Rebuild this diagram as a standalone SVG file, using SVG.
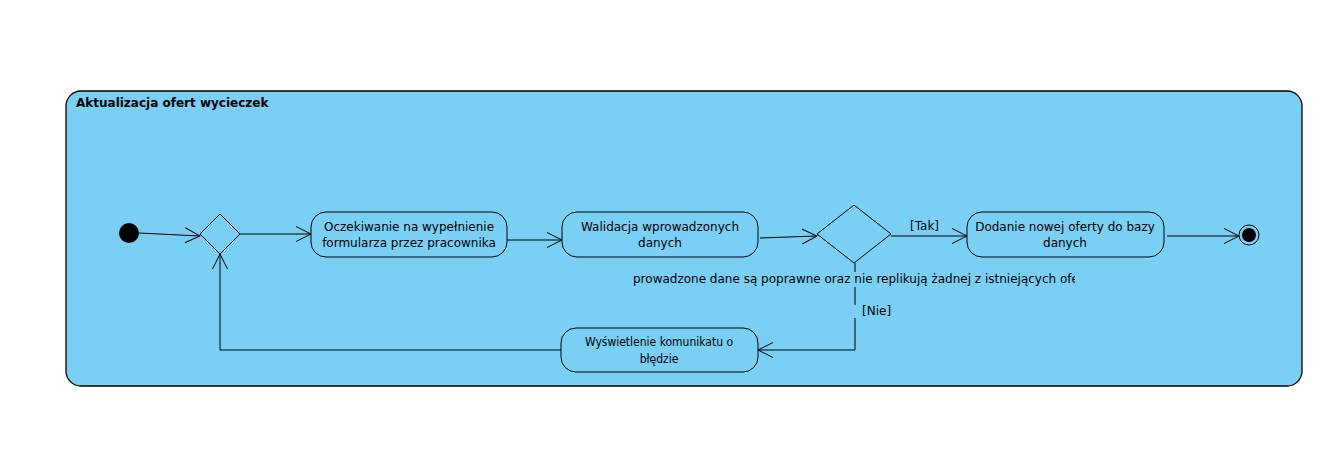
<svg xmlns="http://www.w3.org/2000/svg" width="1344" height="455" viewBox="0 0 1344 455">
<style>
.frame{fill:#7acff4;stroke:#000;stroke-width:1.3}
.act{fill:#7acff4;stroke:#000;stroke-width:1}
.dec{fill:#7acff4;stroke:#000;stroke-width:1}
.t{font-family:"DejaVu Sans","Liberation Sans",sans-serif;font-size:12px;fill:#000;text-anchor:middle}
.tc{font-family:"DejaVu Sans Condensed","DejaVu Sans","Liberation Sans",sans-serif;font-size:12px;fill:#000;text-anchor:middle}
.lbl{font-family:"DejaVu Sans","Liberation Sans",sans-serif;font-size:12px;fill:#000}
.title{font-family:"DejaVu Sans","Liberation Sans",sans-serif;font-size:12px;font-weight:bold;fill:#000}
.e{fill:none;stroke:#000;stroke-width:1}
</style>
<defs>
<marker id="arr" markerWidth="16" markerHeight="16" refX="15" refY="8" orient="auto" markerUnits="userSpaceOnUse">
<path d="M0,0.5 L15,8 L0,15.5" fill="none" stroke="#000" stroke-width="1"/>
</marker>
<clipPath id="gclip"><rect x="633" y="265" width="442" height="25"/></clipPath>
</defs>
<rect width="1344" height="455" fill="#fff"/>
<g id="frame">
<rect class="frame" x="66" y="91" width="1236" height="295" rx="15" ry="15"/>
<text class="title" x="76" y="107">Aktualizacja ofert wycieczek</text>
</g>
<g id="edges">
<path class="e" d="M139,233 L200,236" marker-end="url(#arr)"/>
<path class="e" d="M240,234 L311,234" marker-end="url(#arr)"/>
<path class="e" d="M507,240 L562,240" marker-end="url(#arr)"/>
<path class="e" d="M760,238 L817,236" marker-end="url(#arr)"/>
<path class="e" d="M891,236 L967,236" marker-end="url(#arr)"/>
<text class="lbl" x="910" y="230">[Tak]</text>
<path class="e" d="M1167,236 L1239,236" marker-end="url(#arr)"/>
<path class="e" d="M855,263 L855,272"/>
<path class="e" d="M855,287 L855,305"/>
<path class="e" d="M855,318 L855,350 L758,350" marker-end="url(#arr)"/>
<text class="lbl" x="862" y="315">[Nie]</text>
<text class="lbl" x="633" y="283" clip-path="url(#gclip)">prowadzone dane są poprawne oraz nie replikują żadnej z istniejących ofe</text>
<path class="e" d="M561,350 L220,350 L220,254" marker-end="url(#arr)"/>
</g>
<g id="start"><circle cx="129" cy="233" r="10" fill="#000"/></g>
<g id="merge"><polygon class="dec" points="220,214 240,234 220,254 200,234"/></g>
<g id="a1">
<rect class="act" x="311" y="212" width="196" height="45" rx="15" ry="15"/>
<text class="t" x="409" y="231">Oczekiwanie na wypełnienie</text>
<text class="t" x="409" y="247">formularza przez pracownika</text>
</g>
<g id="a2">
<rect class="act" x="562" y="212" width="196" height="45" rx="15" ry="15"/>
<text class="t" x="660" y="231">Walidacja wprowadzonych</text>
<text class="t" x="660" y="247">danych</text>
</g>
<g id="d2"><polygon class="dec" points="854,205 891,234 854,263 817,234"/></g>
<g id="a3">
<rect class="act" x="967" y="212" width="197" height="45" rx="15" ry="15"/>
<text class="t" x="1065" y="231">Dodanie nowej oferty do bazy</text>
<text class="t" x="1065" y="247">danych</text>
</g>
<g id="end">
<circle cx="1249" cy="235" r="10" fill="none" stroke="#000" stroke-width="1"/>
<circle cx="1249" cy="235" r="7" fill="#000"/>
</g>
<g id="a4">
<rect class="act" x="561" y="328" width="197" height="44" rx="15" ry="15"/>
<text class="tc" x="659" y="346">Wyświetlenie komunikatu o</text>
<text class="tc" x="659" y="363">błędzie</text>
</g>
</svg>
